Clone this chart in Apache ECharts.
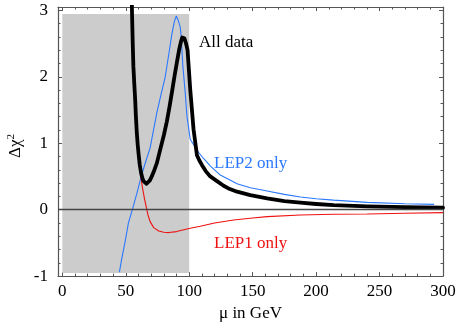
<!DOCTYPE html>
<html><head><meta charset="utf-8">
<script src="https://cdn.jsdelivr.net/npm/echarts@6/dist/echarts.min.js"></script>
<style>html,body{margin:0;padding:0;background:#fff}#c{width:463px;height:327px}</style>
</head><body><div id="c"></div>
<script>
// All data (black)
const allX = [54.6, 55.0, 55.5, 56.0, 56.7, 57.4, 58.0, 58.7, 59.4, 60.2, 61.0, 62.0, 63.0, 64.0, 65.2, 66.4, 67.6, 69.0, 70.5, 72, 74.5, 77.1, 80, 82.4, 84.5, 86.5, 88.5, 90.5, 92.2, 93.5, 94.5, 95.3, 96.2, 97.5, 98.7, 100.8, 103.4, 106.1, 108, 110.1, 113, 116.6, 121.9, 127.1, 132, 137.7, 148.2, 161.4, 175, 187.7, 200, 213.8, 240.3, 270, 300];
const allY = [3.3, 2.9, 2.5, 2.16, 1.9, 1.66, 1.4, 1.16, 0.98, 0.82, 0.68, 0.56, 0.48, 0.43, 0.40, 0.39, 0.40, 0.44, 0.5, 0.57, 0.7, 0.9, 1.12, 1.33, 1.55, 1.78, 2.02, 2.24, 2.42, 2.53, 2.59, 2.61, 2.58, 2.5, 2.4, 1.81, 1.21, 0.82, 0.74, 0.67, 0.58, 0.5, 0.43, 0.36, 0.31, 0.27, 0.22, 0.17, 0.13, 0.105, 0.085, 0.068, 0.05, 0.038, 0.03];
// LEP2 only (blue)
const lep2X = [45, 46.9, 49.5, 52.1, 55.2, 58.7, 61.9, 65, 69.2, 74.5, 78, 81.1, 84, 86.4, 88.3, 89.8, 91.3, 92.9, 93.7, 95, 96.9, 98.2, 100.8, 104.8, 107.4, 111.3, 116.6, 124.5, 137.7, 148.2, 161.4, 175, 187.7, 200, 213.8, 240.3, 270, 293];
const lep2Y = [-0.94, -0.73, -0.48, -0.2, 0, 0.24, 0.48, 0.68, 0.93, 1.46, 1.75, 2.0, 2.35, 2.65, 2.83, 2.915, 2.85, 2.75, 2.6, 2.16, 1.75, 1.41, 1.06, 0.94, 0.86, 0.77, 0.66, 0.52, 0.39, 0.33, 0.28, 0.23, 0.19, 0.165, 0.143, 0.11, 0.09, 0.079];
// LEP1 only (red)
const lep1X = [61.9, 63, 64.7, 66.6, 67.5, 69.2, 72, 76, 80, 84, 90, 100.8, 108.7, 120, 135, 150, 161.4, 187.7, 213.8, 240.3, 270, 300];
const lep1Y = [0.49, 0.35, 0.17, 0, -0.08, -0.18, -0.27, -0.32, -0.34, -0.345, -0.33, -0.28, -0.25, -0.2, -0.155, -0.125, -0.105, -0.08, -0.07, -0.065, -0.055, -0.045];
// shaded band
const shadeX = [0, 100];
const shadeY = [-0.955, 2.945];
// ticks
const xMajor = [0, 50, 100, 150, 200, 250, 300];
const xMinor = [10, 20, 30, 40, 60, 70, 80, 90, 110, 120, 130, 140, 160, 170, 180, 190, 210, 220, 230, 240, 260, 270, 280, 290];
const yMajor = [-1, 0, 1, 2, 3];
const yMinor = [-0.8, -0.6, -0.4, -0.2, 0.2, 0.4, 0.6, 0.8, 1.2, 1.4, 1.6, 1.8, 2.2, 2.4, 2.6, 2.8];
const labels = ['All data', 'LEP2 only', 'LEP1 only'];
const xTitle = 'μ in GeV';
const yTitle = '{a|Δχ}{s|2}';

const FONT = 'Liberation Serif';
const XMIN = -3.4, XMAX = 300, YMIN = -1, YMAX = 3.05;
const axisCol = '#555';
const pair = (xs, ys) => xs.map((x, i) => [x, ys[i]]);

function xAx(pos, vals, len, labels, line) {
  return {
    type: 'value', position: pos, min: XMIN, max: XMAX,
    axisLine: { show: line, onZero: false, lineStyle: { color: axisCol, width: 1.2 } },
    axisTick: { show: true, inside: true, length: len, customValues: vals, lineStyle: { color: axisCol, width: 1 } },
    axisLabel: labels ? { show: true, customValues: vals, margin: 7, fontFamily: FONT, fontSize: 17, color: '#000' } : { show: false },
    splitLine: { show: false }
  };
}
function yAx(pos, vals, len, labels, line) {
  return {
    type: 'value', position: pos, min: YMIN, max: YMAX,
    axisLine: { show: line, onZero: false, lineStyle: { color: axisCol, width: 1.2 } },
    axisTick: { show: true, inside: true, length: len, customValues: vals, lineStyle: { color: axisCol, width: 1 } },
    axisLabel: labels ? { show: true, customValues: vals, margin: 10, fontFamily: FONT, fontSize: 17, color: '#000' } : { show: false },
    splitLine: { show: false }
  };
}

const xAxes = [xAx('bottom', xMajor, 4, true, true), xAx('bottom', xMinor, 2.5, false, false), xAx('top', xMajor, 4, false, true), xAx('top', xMinor, 2.5, false, false)];
xAxes[0].name = xTitle;
xAxes[0].nameLocation = 'middle';
xAxes[0].nameGap = 27;
xAxes[0].nameTextStyle = { fontFamily: FONT, fontSize: 17, color: '#000' };
const yAxes = [yAx('left', yMajor, 4, true, true), yAx('left', yMinor, 2.5, false, false), yAx('right', yMajor, 4, false, true), yAx('right', yMinor, 2.5, false, false)];

const chart = echarts.init(document.getElementById('c'), null, { renderer: 'canvas' });
chart.setOption({
  animation: false,
  backgroundColor: '#fff',
  grid: { left: 58, right: 20, top: 7, bottom: 49, containLabel: false },
  xAxis: xAxes,
  yAxis: yAxes,
  series: [
    {
      type: 'line', data: [], z: 1,
      markArea: { silent: true, itemStyle: { color: '#cccccc' }, data: [[{ coord: [shadeX[0], shadeY[1]] }, { coord: [shadeX[1], shadeY[0]] }]] },
      markLine: { silent: true, symbol: ['none', 'none'], label: { show: false }, lineStyle: { color: '#444', width: 1.3, type: 'solid' }, data: [{ yAxis: 0 }] }
    },
    { type: 'line', data: pair(lep2X, lep2Y), showSymbol: false, lineStyle: { color: '#2a78ff', width: 1.1 }, z: 3, clip: true },
    { type: 'line', data: pair(lep1X, lep1Y), showSymbol: false, lineStyle: { color: '#ee1111', width: 1.1 }, z: 3, clip: true },
    { type: 'line', data: pair(allX, allY), showSymbol: false, lineStyle: { color: '#000', width: 3.8, join: 'round', cap: 'round' }, z: 4, clip: true }
  ],
  graphic: [
    { type: 'text', left: 199, top: 34.5, style: { text: labels[0], fontFamily: FONT, fontSize: 17, fill: '#000' } },
    { type: 'text', left: 214, top: 155, style: { text: labels[1], fontFamily: FONT, fontSize: 17, fill: '#2a78ff' } },
    { type: 'text', left: 214, top: 235.5, style: { text: labels[2], fontFamily: FONT, fontSize: 17, fill: '#ee1111' } },
    { type: 'text', x: 16, y: 146, rotation: Math.PI / 2, style: { text: yTitle, align: 'center', verticalAlign: 'middle', fontFamily: FONT, fontSize: 17, fill: '#000',
      rich: { a: { fontFamily: FONT, fontSize: 17, fill: '#000', lineHeight: 20 }, s: { fontFamily: FONT, fontSize: 11, fill: '#000', verticalAlign: 'top', lineHeight: 20 } } } }
  ]
});
</script></body></html>
